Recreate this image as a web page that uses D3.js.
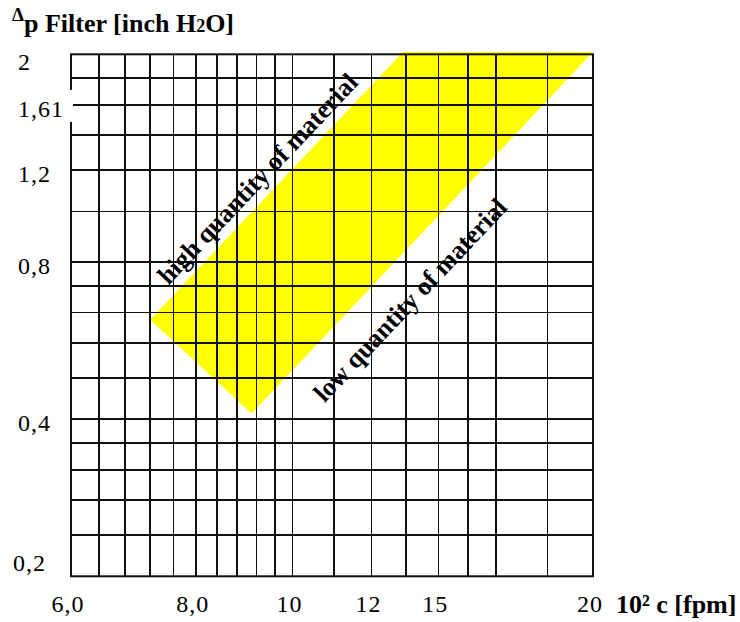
<!DOCTYPE html>
<html lang="en">
<head>
  <meta charset="utf-8">
  <script src="https://d3js.org/d3.v7.min.js"></script>
  <style>
    body { margin: 0; background: #fff; }
    text { font-family: "Liberation Serif", "Times New Roman", serif; fill: #000; }
    .grid { stroke: #111; stroke-width: 1.6; shape-rendering: crispEdges; }
    .frame { fill: none; stroke: #111; stroke-width: 2; }
    .tick { font-size: 24px; letter-spacing: 1px; }
    .bold { font-weight: bold; }
  </style>
</head>
<body>
  <script type="text/javascript">
    // grid lines (velocity in 10^2 fpm, pressure drop in inch H2O)
    var xGrid = [6, 6.4, 6.8, 7.2, 7.6, 8, 8.4, 8.8, 9.2, 9.6, 10, 11, 12, 13, 14, 15, 16, 18, 20];
    var yGrid = [0.2, 0.24, 0.28, 0.32, 0.36, 0.4, 0.48, 0.56, 0.64, 0.72, 0.8, 1.0, 1.2, 1.4, 1.6, 1.8, 2];

    // tick labels and where they sit in the original
    var xTickLabels = ["6,0", "8,0", "10", "12", "15", "20"];
    var xTickAt = [6, 8, 10, 12, 14, 20];
    var yTickLabels = ["0,2", "0,4", "0,8", "1,2", "1,61", "2"];
    var yTickAt = [0.2, 0.4, 0.8, 1.2, 1.6, 2];

    // yellow working range (corners)
    var bandC = [7.2, 12.9, 20, 9.1];
    var bandDp = [0.62, 2.02, 2.02, 0.41];

    var dim = {
      width: 740,
      height: 622,
      left: 71,
      right: 593,
      top: 54.3,
      bottom: 576.3
    };

    var svg = d3.select("body")
      .append("svg")
      .attr("width", dim.width)
      .attr("height", dim.height);

    var x = d3.scaleLog()
      .domain([6, 20])
      .range([dim.left, dim.right]);

    var y = d3.scaleLog()
      .domain([0.2, 2])
      .range([dim.bottom, dim.top]);

    // yellow band
    var corners = bandC.map(function(c, i) { return [x(c), y(bandDp[i])]; });
    svg.append("polygon")
      .attr("points", corners.map(function(p) { return p.join(","); }).join(" "))
      .attr("fill", "#ffff00");

    // vertical grid
    svg.selectAll(".vline")
      .data(xGrid)
      .enter()
      .append("line")
      .attr("class", "grid vline")
      .attr("x1", function(d) { return x(d); })
      .attr("x2", function(d) { return x(d); })
      .attr("y1", dim.top)
      .attr("y2", dim.bottom);

    // horizontal grid
    svg.selectAll(".hline")
      .data(yGrid)
      .enter()
      .append("line")
      .attr("class", "grid hline")
      .attr("x1", dim.left)
      .attr("x2", dim.right)
      .attr("y1", function(d) { return y(d); })
      .attr("y2", function(d) { return y(d); });

    svg.append("rect")
      .attr("class", "frame")
      .attr("x", dim.left)
      .attr("y", dim.top)
      .attr("width", dim.right - dim.left)
      .attr("height", dim.bottom - dim.top);

    // white box behind the 1,61 label (it cuts the axis in the original)
    svg.append("rect")
      .attr("x", 17)
      .attr("y", y(1.6) - 15)
      .attr("width", 56)
      .attr("height", 32)
      .attr("fill", "#fff");

    // y tick labels
    svg.selectAll(".ylab")
      .data(yTickLabels)
      .enter()
      .append("text")
      .attr("class", "tick ylab")
      .attr("x", function(d, i) { return i == 0 ? 13 : 18; })
      .attr("y", function(d, i) {
        var v = y(yTickAt[i]);
        if (i == 0) return v - 5;
        if (i == yTickLabels.length - 1) return v + 16;
        return v + 12;
      })
      .text(function(d) { return d; });

    // x tick labels
    svg.selectAll(".xlab")
      .data(xTickLabels)
      .enter()
      .append("text")
      .attr("class", "tick xlab")
      .attr("text-anchor", "middle")
      .attr("x", function(d, i) { return x(xTickAt[i]) - 3; })
      .attr("y", 612)
      .text(function(d) { return d; });

    // labels along the edges of the band
    function edgeLabel(p, q, frac, off, label) {
      var dx = q[0] - p[0], dy = q[1] - p[1];
      var len = Math.sqrt(dx * dx + dy * dy);
      var nx = dy / len, ny = -dx / len;   // normal, points up-left
      var cx = p[0] + dx * frac + nx * off;
      var cy = p[1] + dy * frac + ny * off;
      var ang = Math.atan2(dy, dx) * 180 / Math.PI;
      svg.append("text")
        .attr("class", "bold")
        .attr("font-size", "26px")
        .attr("text-anchor", "middle")
        .attr("transform", "translate(" + cx + "," + cy + ") rotate(" + ang + ")")
        .text(label);
    }
    edgeLabel(corners[0], corners[1], 0.479, 10, "high quantity of material");
    edgeLabel(corners[3], corners[2], 0.385, -46, "low quantity of material");

    // axis titles
    svg.append("text")
      .attr("class", "bold")
      .attr("x", 12)
      .attr("y", 21)
      .attr("font-size", "19px")
      .text("Δ");

    var yTitle = svg.append("text")
      .attr("class", "bold")
      .attr("x", 24)
      .attr("y", 32)
      .attr("font-size", "26px");
    yTitle.append("tspan").text("p Filter [inch H");
    yTitle.append("tspan").attr("font-size", "18px").text("2");
    yTitle.append("tspan").text("O]");

    svg.append("text")
      .attr("class", "bold")
      .attr("x", 616)
      .attr("y", 613)
      .attr("font-size", "26px")
      .text("10² c [fpm]");
  </script>
</body>
</html>
